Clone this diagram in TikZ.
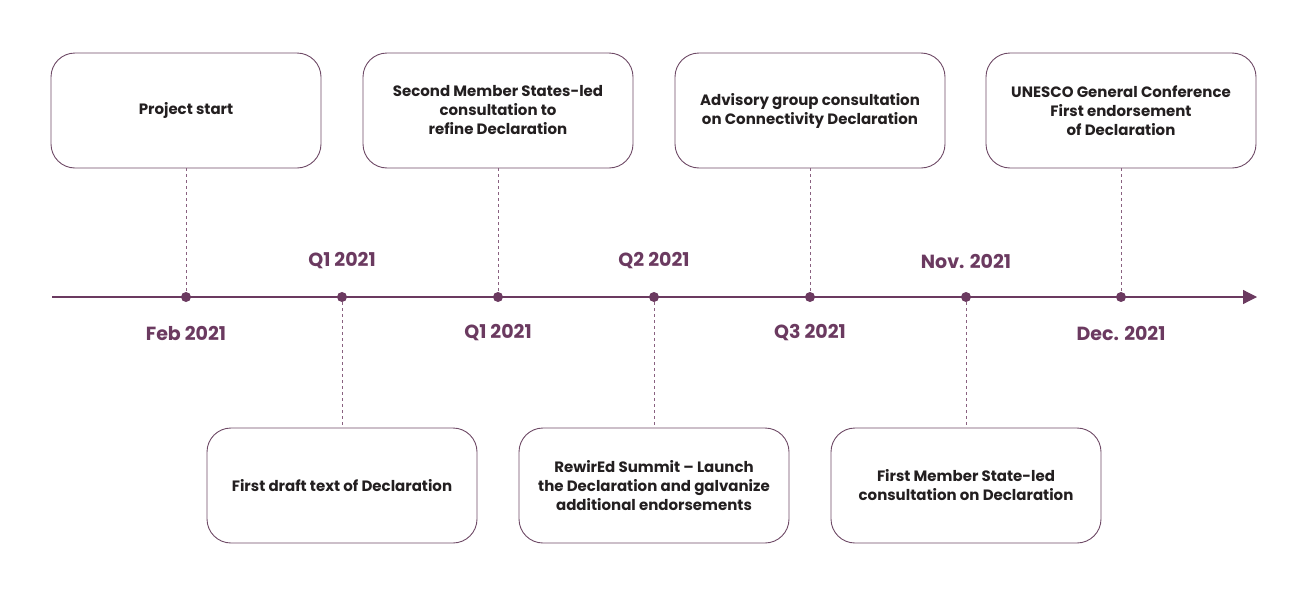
\documentclass[tikz,border=0pt]{standalone}
\usepackage{fontspec}
\setmainfont{Poppins}
\usetikzlibrary{arrows.meta}
\definecolor{plum}{HTML}{6B3A60}
\definecolor{boxline}{HTML}{6E4A66}
\definecolor{txt}{HTML}{231F20}
\begin{document}
\begin{tikzpicture}[x=1pt,y=-1pt,
  evbox/.style={draw=boxline,line width=0.9pt,rounded corners=24pt,minimum width=270pt,minimum height=115pt,align=center,font=\fontsize{15}{19}\selectfont\bfseries,text=txt,inner sep=0pt},
  dlab/.style={font=\fontsize{19}{22}\selectfont\bfseries,text=plum},
  dot/.style={circle,fill=plum,minimum size=10pt,inner sep=0pt},
  conn/.style={draw=plum!80,dashed,line width=0.6pt}]
\useasboundingbox (0,0) rectangle (1307,608);
\coordinate (start) at (52,297);
\coordinate (end) at (1257,297);
\draw[plum,line width=1.2pt,-{Triangle[length=14pt,width=14pt]}] (start) -- (end);
\foreach \i/\x in {1/186,2/342,3/498,4/654,5/810,6/966,7/1121}{\node[dot] (d\i) at (\x,297) {};}
\node[evbox] (t1) at (186,110.5) {Project start};
\node[evbox] (t2) at (498,110.5) {Second Member States-led\\consultation to\\refine Declaration};
\node[evbox] (t3) at (810,110.5) {Advisory group consultation\\on Connectivity Declaration};
\node[evbox] (t4) at (1121,110.5) {UNESCO General Conference\\First endorsement\\of Declaration};
\node[evbox] (b1) at (342,485.5) {First draft text of Declaration};
\node[evbox] (b2) at (654,485.5) {RewirEd Summit – Launch\\the Declaration and galvanize\\additional endorsements};
\node[evbox] (b3) at (966,485.5) {First Member State-led\\consultation on Declaration};
\draw[conn] (t1) -- (d1); \draw[conn] (t2) -- (d3); \draw[conn] (t3) -- (d5); \draw[conn] (t4) -- (d7);
\draw[conn] (d2) -- (b1); \draw[conn] (d4) -- (b2); \draw[conn] (d6) -- (b3);
\node[dlab] (l2) at (342,261) {Q1 2021};
\node[dlab] (l4) at (654,261) {Q2 2021};
\node[dlab] (l6) at (966,261) {Nov. 2021};
\node[dlab] (l1) at (186,333) {Feb 2021};
\node[dlab] (l3) at (498,333) {Q1 2021};
\node[dlab] (l5) at (810,333) {Q3 2021};
\node[dlab] (l7) at (1121,333) {Dec. 2021};
\end{tikzpicture}
\end{document}
